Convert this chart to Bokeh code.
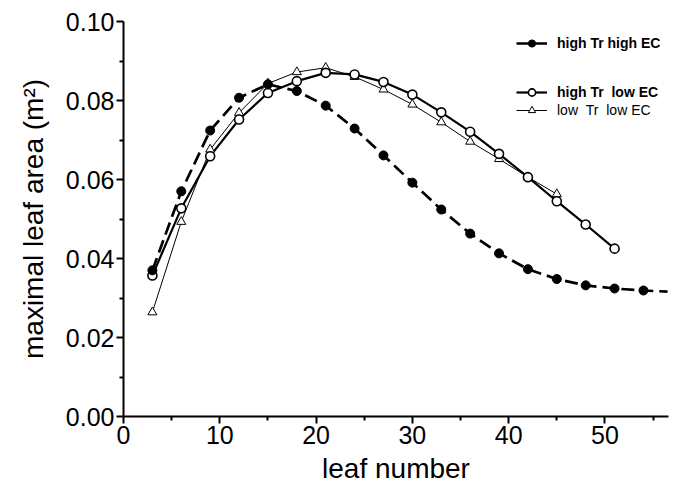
from bokeh.plotting import figure
from bokeh.models import Range1d, FixedTicker, NumeralTickFormatter, Legend, LegendItem
from bokeh.embed import file_html
from bokeh.resources import INLINE

# ---- data ----
leaf = [3, 6, 9, 12, 15, 18, 21, 24, 27, 30, 33, 36, 39, 42, 45, 48, 51, 54]

# high Tr, high EC (filled circles, dashed)
hh_y = [0.0370, 0.0570, 0.0724, 0.0807, 0.0841, 0.0824, 0.0787, 0.0729, 0.0661,
        0.0592, 0.0524, 0.0463, 0.0413, 0.0373, 0.0348, 0.0332, 0.0324, 0.0319]
# dashed curve continues past the last point
hh_tail_x = 56.5
hh_tail_y = 0.0316

# high Tr, low EC (open circles, solid thick)
hl_leaf = leaf[:17]
hl_y = [0.0357, 0.0527, 0.0659, 0.0752, 0.0819, 0.0849, 0.0870, 0.0866, 0.0847,
        0.0815, 0.0770, 0.0721, 0.0665, 0.0606, 0.0545, 0.0486, 0.0425]

# low Tr, low EC (open triangles, thin)
ll_leaf = leaf[:15]
ll_y = [0.0264, 0.0493, 0.0676, 0.0769, 0.0843, 0.0872, 0.0883, 0.0860, 0.0828,
        0.0790, 0.0745, 0.0696, 0.0652, 0.0606, 0.0563]

labels = ["high Tr high EC", "high Tr\u00a0\u00a0low EC", "low\u00a0\u00a0Tr\u00a0\u00a0low EC"]

x_ticks = [0, 10, 20, 30, 40, 50]
x_minor = [5, 15, 25, 35, 45, 55]
y_ticks = [0.0, 0.02, 0.04, 0.06, 0.08, 0.10]
y_minor = [0.01, 0.03, 0.05, 0.07, 0.09]

FONT = "Liberation Sans"

p = figure(frame_width=545, frame_height=395,
           x_range=Range1d(0, 56.6), y_range=Range1d(0, 0.10),
           output_backend="svg", toolbar_location=None,
           min_border_left=123, min_border_right=12,
           min_border_top=21, min_border_bottom=76)

p.outline_line_color = None
p.xgrid.visible = False
p.ygrid.visible = False
p.background_fill_color = "white"
p.border_fill_color = "white"

# lines
hh_line = p.line(leaf + [hh_tail_x], hh_y + [hh_tail_y], line_color="black",
                 line_width=2.7, line_dash="13 6")
hl_line = p.line(hl_leaf, hl_y, line_color="black", line_width=2.2)
ll_line = p.line(ll_leaf, ll_y, line_color="black", line_width=1)

# markers
ll_pts = p.scatter(ll_leaf, ll_y, marker="triangle", size=9, line_color="black",
                   fill_color="white", line_width=1)
hl_pts = p.scatter(hl_leaf, hl_y, marker="circle", size=9, line_color="black",
                   fill_color="white", line_width=1.6)
hh_pts = p.scatter(leaf, hh_y, marker="circle", size=9, line_color="black",
                   fill_color="black", line_width=1)

# axes
for ax in (p.xaxis[0], p.yaxis[0]):
    ax.axis_line_width = 2
    ax.axis_line_color = "black"
    ax.major_tick_line_width = 2
    ax.minor_tick_line_width = 2
    ax.major_tick_in = 0
    ax.major_tick_out = 7
    ax.minor_tick_in = 0
    ax.minor_tick_out = 4
    ax.major_label_text_font = FONT
    ax.major_label_text_font_size = "25px"
    ax.major_label_text_color = "black"
    ax.axis_label_text_font = FONT
    ax.axis_label_text_font_size = "28px"
    ax.axis_label_text_font_style = "normal"
    ax.axis_label_text_color = "black"

p.xaxis.ticker = FixedTicker(ticks=x_ticks, minor_ticks=x_minor)
p.yaxis.ticker = FixedTicker(ticks=y_ticks, minor_ticks=y_minor)
p.yaxis.formatter = NumeralTickFormatter(format="0.00")
p.xaxis.major_label_standoff = 2
p.yaxis.major_label_standoff = 2
p.xaxis.axis_label = "leaf number"
p.yaxis.axis_label = "maximal leaf area (m\u00b2)"
p.xaxis.axis_label_standoff = 6
p.yaxis.axis_label_standoff = 14

# legends (three, to reproduce the uneven spacing)
def make_legend(label, renderers, y, style):
    lg = Legend(items=[LegendItem(label=label, renderers=renderers)],
                location=(393, y), orientation="vertical",
                border_line_color=None, background_fill_alpha=0,
                padding=0, margin=0, spacing=0,
                glyph_width=31, glyph_height=18, label_height=18,
                label_standoff=10,
                label_text_font=FONT, label_text_font_size="14px",
                label_text_font_style=style, label_text_color="black")
    p.add_layout(lg)

make_legend(labels[0], [hh_line, hh_pts], 364, "bold")
make_legend(labels[1], [hl_line, hl_pts], 315, "bold")
make_legend(labels[2], [ll_line, ll_pts], 297, "normal")

open("out.html", "w").write(file_html(p, INLINE))
